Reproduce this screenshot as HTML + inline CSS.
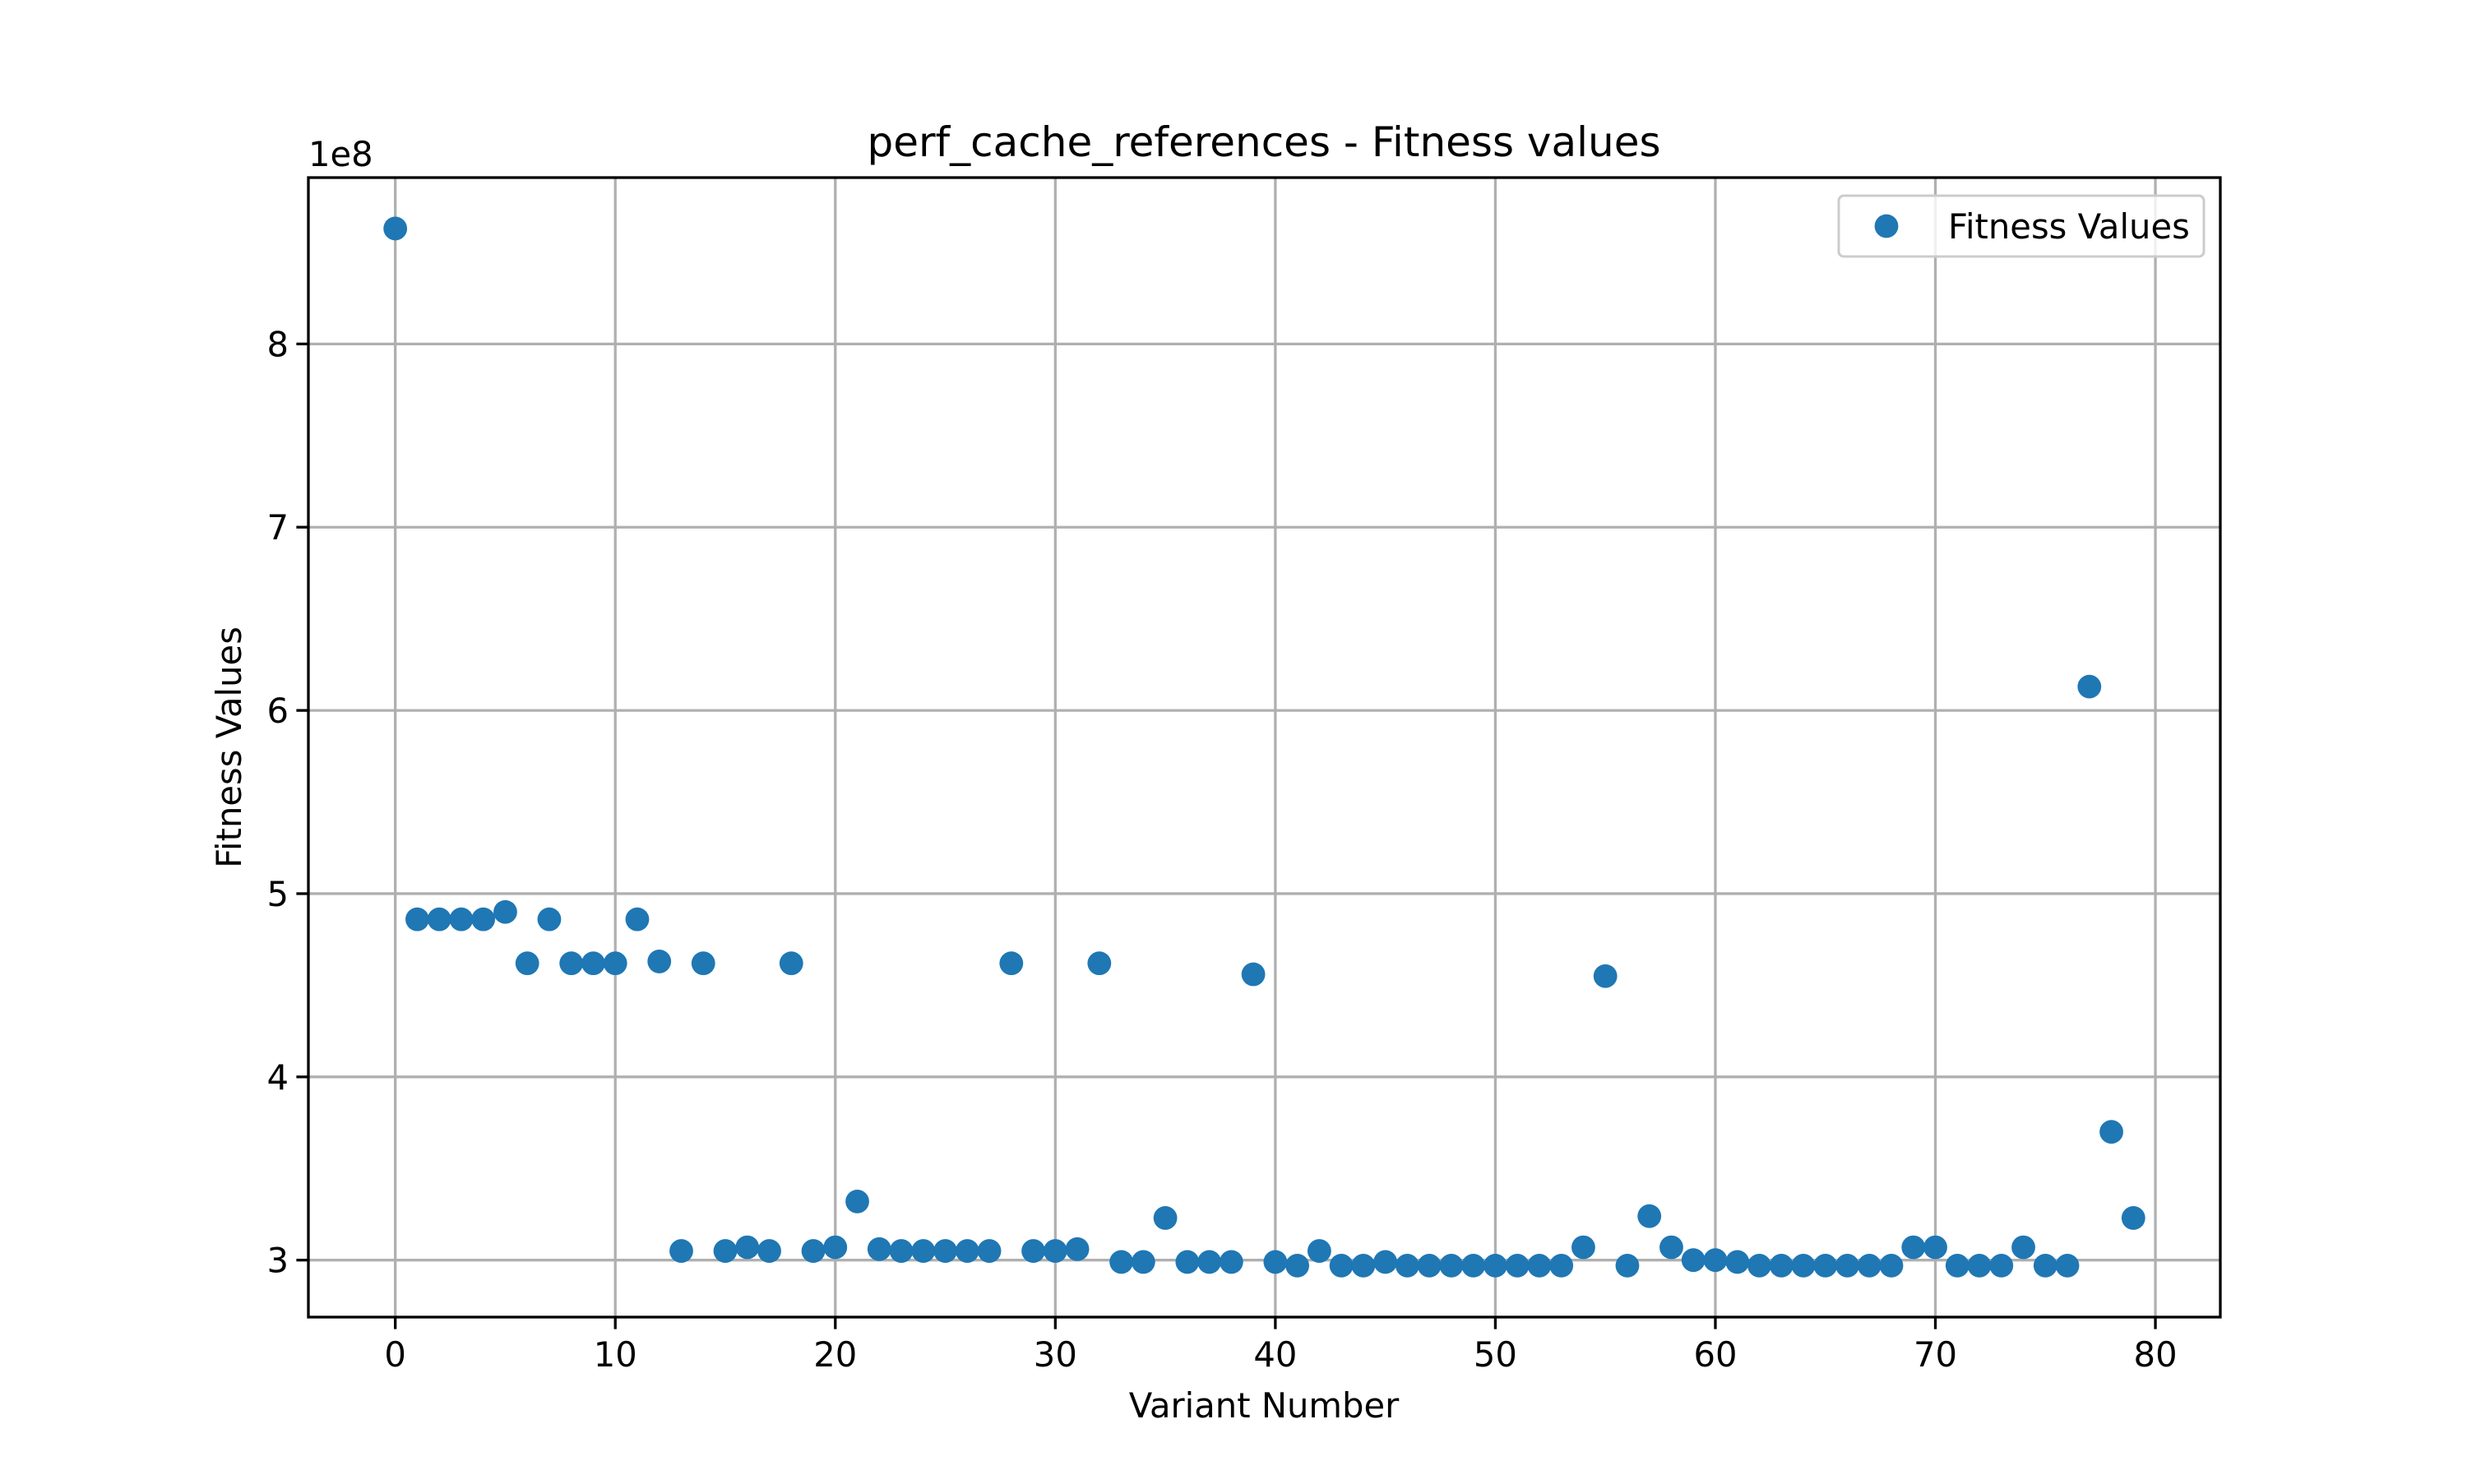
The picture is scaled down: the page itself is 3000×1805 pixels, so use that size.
<!DOCTYPE html>
<html><head><meta charset="utf-8"><style>
html,body{margin:0;padding:0;background:#fff;}
svg text{font-family:"DejaVu Sans","Liberation Sans",sans-serif;fill:#000;}
</style></head><body>
<svg id="chart" width="3000" height="1800" viewBox="0 0 3000 1800" xmlns="http://www.w3.org/2000/svg">
<rect width="3000" height="1800" fill="#fff"/>
<g id="grid"></g>
<g id="points"></g>
<rect x="375" y="216" width="2325" height="1386" fill="none" stroke="#000" stroke-width="3.3"/>
<g id="ticks"></g>
<text x="1537" y="190" font-size="50" text-anchor="middle">perf_cache_references - Fitness values</text>
<text x="1537" y="1724" font-size="41.7" text-anchor="middle">Variant Number</text>
<text transform="translate(293,909) rotate(-90)" font-size="41.7" text-anchor="middle">Fitness Values</text>
<text x="375" y="202" font-size="41.7">1e8</text>
<g>
<rect x="2236" y="238" width="444" height="74" rx="6" fill="#fff" fill-opacity="0.8" stroke="#ccc" stroke-width="3"/>
<circle cx="2294" cy="275" r="14.4" fill="#1f77b4"/>
<text x="2369" y="290" font-size="41.7">Fitness Values</text>
</g>
</svg>
<script>
const variants = [];
for (let i = 0; i < 80; i++) variants.push(i);
const fitness = [8.63,4.86,4.86,4.86,4.86,4.90,4.62,4.86,4.62,4.62,
4.62,4.86,4.63,3.05,4.62,3.05,3.07,3.05,4.62,3.05,
3.07,3.32,3.06,3.05,3.05,3.05,3.05,3.05,4.62,3.05,
3.05,3.06,4.62,2.99,2.99,3.23,2.99,2.99,2.99,4.56,
2.99,2.97,3.05,2.97,2.97,2.99,2.97,2.97,2.97,2.97,
2.97,2.97,2.97,2.97,3.07,4.55,2.97,3.24,3.07,3.00,
3.00,2.99,2.97,2.97,2.97,2.97,2.97,2.97,2.97,3.07,
3.07,2.97,2.97,2.97,3.07,2.97,2.97,6.13,3.70,3.23];
const xTicks = [0,10,20,30,40,50,60,70,80];
const yTicks = [3,4,5,6,7,8];

const L=375,R=2700,T=216,B=1602;
const xmin=-3.95,xmax=82.95,ymin=2.689,ymax=8.908;
const sx=v=>L+(v-xmin)/(xmax-xmin)*(R-L);
const sy=v=>B-(v-ymin)/(ymax-ymin)*(B-T);
const NS="http://www.w3.org/2000/svg";
const grid=document.getElementById('grid'),ticks=document.getElementById('ticks'),pts=document.getElementById('points');
function mk(tag,attrs,parent){const e=document.createElementNS(NS,tag);for(const k in attrs)e.setAttribute(k,attrs[k]);parent.appendChild(e);return e;}
xTicks.forEach(t=>{
  const x=sx(t);
  const g=mk('line',{x1:x,x2:x,y1:T,y2:B,stroke:'#b0b0b0','stroke-width':3.3},grid);
  
  
  const tk=mk('line',{x1:x,x2:x,y1:B,y2:B+14.6,stroke:'#000','stroke-width':3.3},ticks);
  
  
  const tx=mk('text',{x:x,y:B+60,'font-size':41.7,'text-anchor':'middle'},ticks);
  tx.textContent=t;
  
  
});
yTicks.forEach(t=>{
  const y=sy(t);
  const g=mk('line',{x1:L,x2:R,y1:y,y2:y,stroke:'#b0b0b0','stroke-width':3.3},grid);
  
  
  const tk=mk('line',{x1:L-14.6,x2:L,y1:y,y2:y,stroke:'#000','stroke-width':3.3},ticks);
  
  
  const tx=mk('text',{x:L-24,y:y+15,'font-size':41.7,'text-anchor':'end'},ticks);
  tx.textContent=t;
  
  
});
variants.forEach((v,i)=>{
  const c=mk('circle',{cx:sx(v),cy:sy(fitness[i]),r:14.4,fill:'#1f77b4'},pts);
  
  
});
</script>
</body></html>
